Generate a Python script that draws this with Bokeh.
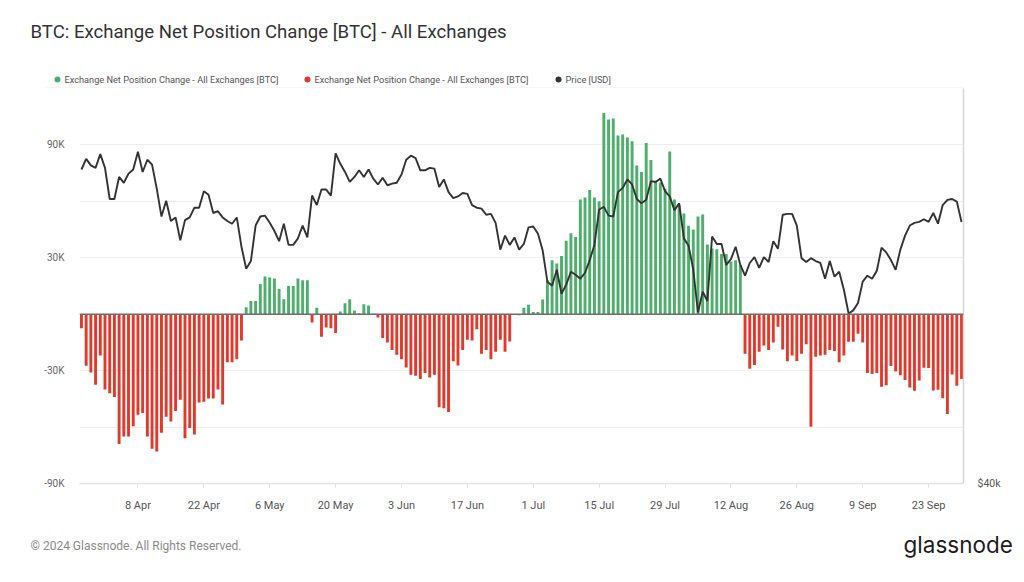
import numpy as np
import pandas as pd
from bokeh.plotting import figure
from bokeh.layouts import column
from bokeh.models import (ColumnDataSource, Range1d, LogAxis, LogScale, FixedTicker,
                          DatetimeTickFormatter, Span)
from bokeh.embed import file_html
from bokeh.resources import INLINE
from bokeh.core.properties import value

# ---------------- data ----------------
START_DATE = "2024-03-27"

# Exchange net position change, thousands of BTC, one value per day (27 Mar - 30 Sep 2024)
net_change_k = [
    -7.4, -27.4, -31, -37.5, -22, -40, -42, -44, -69, -65, -65, -59.6, -53.5, -52.5, -65,
    -71.5, -73, -63, -54.5, -57, -51.5, -45.5, -66, -60.5, -64, -47, -46.5, -44.8, -44.8,
    -40, -48, -25.5, -25.5, -24, -14,
    3.7, 7, 7, 16, 20, 19.5, 19, 13.4, 8, 15, 15, 19, 18, 18,
    -4.4, 3.5, -12, -7, -7.5, -10,
    1.4, 5.8, 8, 2, 0.5, 5.3, 4.6, 0.3, -1.8,
    -12.7, -15, -19, -21.6, -24, -28.3, -32.2, -32.7, -34.5, -31.3, -33.6, -32.2, -49.4,
    -50, -52, -25, -27.3, -19, -13.6, -14, -8, -21, -19, -24, -20, -13.6, -20, -14.5,
    0, -0.6,
    3.5, 5, 1.2, 1.2, 7.8, 18, 28.7, 27, 31, 39, 43, 41, 61, 62, 66, 62, 60, 107, 103.5,
    104, 95, 95.6, 94, 92, 79, 75.6, 91, 82, 71, 70, 66.7, 86.5, 61, 58, 53.5, 47, 45, 52,
    53, 37, 35, 34.5, 32, 32, 28, 28.7, 26,
    -21, -29, -27, -20, -16.6, -19, -15, -6.6, -18.8, -25, -22, -24.9, -21, -16, -59.8,
    -22.6, -22, -21.6, -19, -19.5, -25.6, -22, -14.7, -14.6, -10.4, -15, -31.3, -31.8,
    -31.3, -38.5, -37.8, -27.5, -30.5, -32.4, -35, -38.9, -40.7, -35.3, -28.4, -28.6,
    -40.5, -40.2, -44.7, -53, -32, -38, -34.4,
]

# BTC price, thousands of USD, same days
price_k = [
    69.4, 70.7, 69.9, 69.6, 71.3,
    69.6, 65.9, 65.9, 68.5, 67.8, 68.9, 69.4, 71.6, 69.1, 70.6, 70.0, 67.1, 63.9, 65.7, 63.4,
    63.8, 61.3, 63.5, 63.8, 64.9, 64.9, 66.8, 66.4, 64.3, 64.5, 63.8, 63.4, 63.1, 63.8, 60.6,
    58.3, 59.1, 62.9, 63.9, 64.0, 63.2, 62.3, 61.2, 63.1, 60.8, 60.8, 61.5, 62.9, 61.6, 66.3,
    65.2, 67.0, 67.0, 66.3, 71.4, 70.1, 69.1, 67.9, 68.5, 69.3, 68.5, 69.4, 68.3, 67.6, 68.4,
    67.5,
    67.7, 67.8, 68.8, 70.6, 71.1, 70.8, 69.3, 69.3, 69.6, 69.5, 67.3, 68.2, 66.7, 66.0, 66.2,
    66.6, 66.5, 65.2, 64.9, 64.8, 64.1, 64.2, 63.2, 60.3, 61.8, 60.8, 61.6, 60.3, 60.9, 62.7,
    62.8, 62.0, 60.2, 57.0, 56.6, 58.2, 55.8, 56.7, 58.0, 57.7, 57.3, 57.9, 59.2, 60.8, 64.7,
    65.0, 64.0, 63.9, 66.7, 67.2, 68.2, 67.6, 65.9, 65.4, 65.8, 68.0, 67.9, 68.3, 66.8, 66.2,
    64.6,
    65.4, 61.5, 60.7, 58.2, 54.0, 56.0, 55.1, 61.7, 60.9, 60.9, 58.7, 59.3, 60.6, 58.7, 57.6,
    58.9, 59.5, 58.4, 59.5, 59.0, 61.2, 60.4, 64.1, 64.2, 64.2, 62.9, 59.4, 59.0, 59.4, 59.1,
    58.9,
    57.3, 59.1, 57.5, 58.0, 56.2, 53.9, 54.2, 54.9, 57.0, 57.6, 57.3, 58.1, 60.5, 60.0, 59.2,
    58.2, 60.3, 61.8, 62.9, 63.2, 63.3, 63.6, 63.3, 64.3, 63.1, 65.2, 65.8, 65.9, 65.6, 63.3,
]

tick_dates = ["2024-04-08", "2024-04-22", "2024-05-06", "2024-05-20", "2024-06-03",
              "2024-06-17", "2024-07-01", "2024-07-15", "2024-07-29", "2024-08-12",
              "2024-08-26", "2024-09-09", "2024-09-23"]
left_ticks = [-90000, -30000, 30000, 90000]
left_tick_labels = ["-90K", "-30K", "30K", "90K"]
grid_ticks = [-90000, -60000, -30000, 30000, 60000, 90000]

TITLE = "BTC: Exchange Net Position Change [BTC] - All Exchanges"
legend_labels = ["Exchange Net Position Change - All Exchanges [BTC]",
                 "Exchange Net Position Change - All Exchanges [BTC]",
                 "Price [USD]"]
FOOTER = "\u00a9 2024 Glassnode. All Rights Reserved."
BRAND = "glassnode"

# ---------------- styling ----------------
GREEN = "#4fae6c"
RED = "#e3392c"
PRICE_COLOR = "#333333"
FONT = "Roboto"
W = 1024
HEAD_H, MAIN_H, FOOT_H = 88, 432, 62


def no_align(f):
    try:
        f.frame_align = False
    except Exception:
        pass
    return f


def blank_fig(h):
    f = figure(width=W, height=h, x_range=Range1d(0, W), y_range=Range1d(h, 0),
               output_backend="svg", toolbar_location=None, min_border=0,
               min_border_left=0, min_border_right=0, min_border_top=0,
               min_border_bottom=0, x_axis_location=None, y_axis_location=None)
    f.grid.visible = False
    f.outline_line_color = None
    return no_align(f)


# ---------------- header: title + legend ----------------
head = blank_fig(HEAD_H)
head.text(x=[30], y=[31], text=[TITLE], text_font=value(FONT), text_font_size="18.6px",
          text_color="#333333", text_baseline="middle")
leg_src = ColumnDataSource(dict(
    x=[57, 307, 558], y=[79, 79, 79], color=[GREEN, RED, PRICE_COLOR],
    tx=[64, 314, 565], label=legend_labels))
head.scatter(x="x", y="y", size=6, fill_color="color", line_color=None, source=leg_src)
head.text(x="tx", y="y", text="label", text_font=value(FONT), text_font_size="9.2px",
          text_color="#555555", text_baseline="middle", source=leg_src)
head.segment(x0=[45], y0=[87.5], x1=[963], y1=[87.5], line_color="#ececec", line_width=1)

# ---------------- main chart ----------------
dates = pd.date_range(START_DATE, periods=len(net_change_k), freq="D")
net = np.array(net_change_k) * 1000.0
price = np.array(price_k) * 1000.0

src = ColumnDataSource(dict(
    x=dates,
    top=net,
    color=[GREEN if v >= 0 else RED for v in net],
    price=price,
))

DAY = 86400000.0
x_start = dates[0] - pd.Timedelta(hours=10)
x_end = dates[-1] + pd.Timedelta(hours=10)

p = figure(width=W, height=MAIN_H, x_axis_type="datetime",
           x_range=Range1d(x_start, x_end), y_range=Range1d(-90000, 120000),
           output_backend="svg", toolbar_location=None, title=None,
           min_border_left=79, min_border_right=61, min_border_top=0, min_border_bottom=37)
no_align(p)
p.outline_line_color = None
p.background_fill_color = "white"

p.extra_y_ranges = {"price": Range1d(40000, 80000)}
p.extra_y_scales = {"price": LogScale()}

p.xgrid.visible = False
p.ygrid.ticker = FixedTicker(ticks=grid_ticks)
p.ygrid.grid_line_color = "#efefef"
p.ygrid.grid_line_width = 1

p.vbar(x="x", top="top", bottom=0, width=0.62 * DAY, fill_color="color", line_color=None,
       source=src)

p.add_layout(Span(location=0, dimension="width", line_color="#6e6e6e", line_width=1.6))

p.line(x="x", y="price", source=src, y_range_name="price", line_color=PRICE_COLOR,
       line_width=1.9)

yax = p.yaxis[0]
yax.ticker = FixedTicker(ticks=left_ticks)
yax.major_label_overrides = {t: s for t, s in zip(left_ticks, left_tick_labels)}
yax.axis_line_color = None
yax.major_tick_line_color = None
yax.minor_tick_line_color = None
yax.major_label_standoff = 9
yax.major_label_text_font = FONT
yax.major_label_text_font_size = "10px"
yax.major_label_text_color = "#666666"

xax = p.xaxis[0]
xax.ticker = FixedTicker(ticks=[pd.Timestamp(d).value / 1e6 for d in tick_dates])
fmt = "%-d %b"
xax.formatter = DatetimeTickFormatter(days=fmt, months=fmt, years=fmt, hours=fmt,
                                      hourmin=fmt, minutes=fmt, minsec=fmt, seconds=fmt,
                                      milliseconds=fmt, microseconds=fmt)
xax.axis_line_color = "#e2e2e2"
xax.axis_line_width = 1.5
xax.major_tick_line_color = "#e2e2e2"
xax.major_tick_out = 4
xax.major_tick_in = 0
xax.minor_tick_line_color = None
xax.major_label_standoff = 11
xax.major_label_text_font = FONT
xax.major_label_text_font_size = "11px"
xax.major_label_text_color = "#555555"

rax = LogAxis(y_range_name="price", ticker=FixedTicker(ticks=[40000]))
rax.major_label_overrides = {40000: "$40k"}
rax.axis_line_color = "#d6d6d6"
rax.axis_line_width = 1.5
rax.major_tick_line_color = None
rax.minor_tick_line_color = None
rax.major_label_standoff = 8
rax.major_label_text_font = FONT
rax.major_label_text_font_size = "10.5px"
rax.major_label_text_color = "#555555"
p.add_layout(rax, "right")

# ---------------- footer ----------------
foot = blank_fig(FOOT_H)
foot.text(x=[30], y=[25], text=[FOOTER], text_font=value(FONT), text_font_size="12px",
          text_color="#8a8a8a", text_baseline="middle")
foot.text(x=[903], y=[24], text=[BRAND], text_font=value("Inter"), text_font_size="22.5px",
          text_color="#1c1c1c", text_baseline="middle")

layout = column(head, p, foot, spacing=0)
open("out.html", "w").write(file_html(layout, INLINE))
